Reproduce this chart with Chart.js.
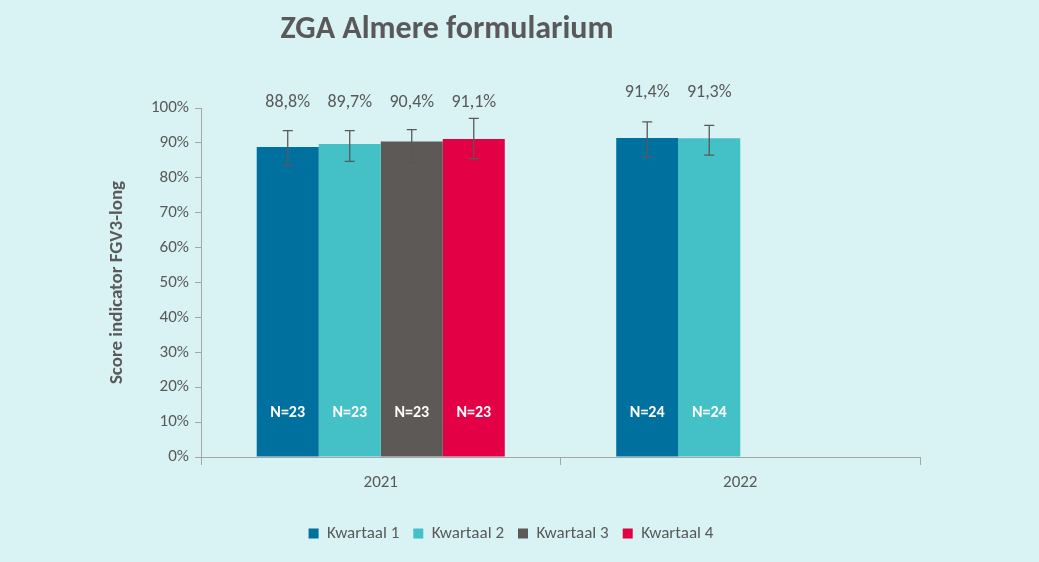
<!DOCTYPE html>
<html><head><meta charset="utf-8">
<script src="https://cdn.jsdelivr.net/npm/chart.js@4"></script>
<style>html,body{margin:0;background:#d9f2f4}#wrap{width:1039px;height:562px}</style>
</head><body><div id="wrap"><canvas id="c"></canvas></div>
<script>
const years = ['2021', '2022'];
const quarters = ['Kwartaal 1', 'Kwartaal 2', 'Kwartaal 3', 'Kwartaal 4'];
const colors = ['#00709f', '#43c1c6', '#5d5957', '#e40045'];
const scores = [[88.8, 91.4], [89.7, 91.3], [90.4, null], [91.1, null]];
const errLow = [[83.5, 86], [84.7, 86.5], [84.2, null], [85.5, null]];
const errHigh = [[93.5, 96], [93.5, 95], [93.8, null], [97, null]];
const counts = [[23, 24], [23, 24], [23, null], [23, null]];
const labelLevel = [101.5, 104.5];
const yTicks = [0, 10, 20, 30, 40, 50, 60, 70, 80, 90, 100];

const txt = '#595959';
const font = 'Calibri, Carlito, Lato, sans-serif';

const extras = {
  id: 'extras',
  afterDatasetsDraw(chart) {
    const c = chart.ctx, y = chart.scales.y;
    c.save();
    chart.data.datasets.forEach((ds, i) => {
      chart.getDatasetMeta(i).data.forEach((bar, j) => {
        if (scores[i][j] == null) return;
        const x = bar.x;
        // error bar
        c.strokeStyle = '#595959'; c.lineWidth = 1.3;
        const yl = y.getPixelForValue(errLow[i][j]), yh = y.getPixelForValue(errHigh[i][j]);
        c.beginPath();
        c.moveTo(x, yl); c.lineTo(x, yh);
        c.moveTo(x - 5, yl); c.lineTo(x + 5, yl);
        c.moveTo(x - 5, yh); c.lineTo(x + 5, yh);
        c.stroke();
        // value label
        c.fillStyle = txt; c.font = '18px ' + font; c.textAlign = 'center'; c.textBaseline = 'middle';
        c.fillText(scores[i][j].toFixed(1).replace('.', ',') + '%', x, y.getPixelForValue(labelLevel[j]));
        // N label
        c.fillStyle = '#fff'; c.font = 'bold 16px ' + font;
        c.fillText('N=' + counts[i][j], x, y.getPixelForValue(12.5));
      });
    });
    c.fillStyle = txt; c.font = 'bold 32px ' + font; c.textAlign = 'center'; c.textBaseline = 'middle';
    c.fillText('ZGA Almere formularium', 447, 30);
    c.restore();
  }
};

new Chart(document.getElementById('c'), {
  type: 'bar',
  data: {
    labels: years,
    datasets: quarters.map((q, i) => ({
      label: q, data: scores[i], backgroundColor: colors[i],
      categoryPercentage: 0.69, barPercentage: 1
    }))
  },
  options: {
    responsive: true, maintainAspectRatio: false, animation: false,
    layout: { padding: { top: 108, right: 119, left: 102, bottom: 10 } },
    plugins: {
      tooltip: { enabled: false },
      legend: {
        position: 'bottom',
        labels: { color: txt, font: { family: font, size: 17 }, boxWidth: 10, boxHeight: 10, padding: 14 }
      }
    },
    scales: {
      x: {
        grid: { offset: true, drawOnChartArea: false, tickLength: 8, color: '#a6a6a6' },
        border: { color: '#a6a6a6' },
        ticks: { color: txt, font: { family: font, size: 17 }, padding: 8 },
        afterFit(s) { s.height = 54; }
      },
      y: {
        min: 0, max: 100,
        afterBuildTicks(s) { s.ticks = yTicks.map(v => ({ value: v })); },
        grid: { drawOnChartArea: false, tickLength: 6, color: '#a6a6a6' },
        border: { color: '#a6a6a6' },
        ticks: { color: txt, font: { family: font, size: 17 }, callback: v => v + '%', padding: 6 },
        title: { display: true, text: 'Score indicator FGV3-long', color: txt, font: { family: font, size: 19, weight: 'bold' } },
        afterFit(s) { s.width = 99; }
      }
    }
  },
  plugins: [extras]
});
</script></body></html>
